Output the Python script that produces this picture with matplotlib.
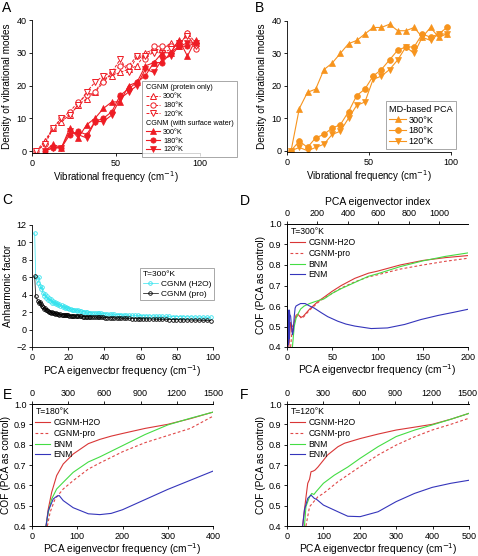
import matplotlib
matplotlib.use("Agg")
import matplotlib.pyplot as plt
from matplotlib.lines import Line2D

plt.rcParams['font.family'] = ['Liberation Sans', 'DejaVu Sans']
plt.rcParams['axes.linewidth'] = 0.6
plt.rcParams['xtick.major.width'] = 0.6
plt.rcParams['ytick.major.width'] = 0.6
plt.rcParams['xtick.major.size'] = 2.5
plt.rcParams['ytick.major.size'] = 2.5
plt.rcParams['xtick.major.pad'] = 1.5
plt.rcParams['ytick.major.pad'] = 1.5
plt.rcParams['xtick.labelsize'] = 6.5
plt.rcParams['ytick.labelsize'] = 6.5

# ---- panel A: CGNM density of modes ----
a_freq_pro = [2.5, 7.5, 12.5, 17.5, 22.5, 27.5, 32.5, 37.5, 42.5, 47.5,
              52.5, 57.5, 62.5, 67.5, 72.5, 77.5, 82.5, 87.5, 92.5, 97.5]
a_pro_300 = [0, 3, 7, 9, 11, 14, 16, 18, 22, 23, 24, 25, 26, 30, 31, 31, 33, 32, 36, 33]
a_pro_180 = [0, 2, 7, 10, 12, 15, 17, 18, 21, 24, 26, 26, 29, 28, 32, 32, 32, 32, 36, 31]
a_pro_120 = [0, 2, 7, 10, 11, 14, 18, 21, 23, 24, 28, 24, 29, 29, 30, 30, 31, 33, 35, 32]
a_freq_wat = [7.5, 12.5, 17.5, 22.5, 27.5, 32.5, 37.5, 42.5, 47.5,
              52.5, 57.5, 62.5, 67.5, 72.5, 77.5, 82.5, 87.5, 92.5, 97.5]
a_wat_300 = [0, 2, 1, 7, 4, 8, 10, 13, 15, 15, 20, 21, 26, 27, 30, 30, 34, 29, 34]
a_wat_180 = [0, 1, 1, 5, 6, 5, 9, 10, 12, 17, 19, 21, 23, 27, 27, 30, 32, 32, 33]
a_wat_120 = [0, 1, 1, 6, 5, 4, 9, 9, 11, 16, 18, 20, 25, 24, 28, 29, 32, 33, 33]

# ---- panel B: MD-based PCA density of modes ----
b_freq = [2.5, 7.5, 12.5, 17.5, 22.5, 27.5, 32.5, 37.5, 42.5, 47.5,
          52.5, 57.5, 62.5, 67.5, 72.5, 77.5, 82.5, 87.5, 92.5, 97.5]
b_300 = [0, 13, 18, 19, 25, 27, 30, 33, 34, 36, 38, 38, 39, 37, 37, 38, 35, 38, 35, 36]
b_180 = [0, 3, 1, 4, 5, 7, 8, 12, 17, 19, 23, 25, 28, 31, 32, 32, 36, 35, 36, 38]
b_120 = [0, 1, 0, 1, 2, 5, 6, 10, 14, 15, 22, 23, 25, 28, 32, 30, 35, 34, 36, 36]

# ---- panel C: anharmonic factor ----
c_freq = [1.5, 2.0, 3.2, 4.1, 4.6, 5.0, 5.5, 6.1, 6.6, 7.2, 7.7, 8.3, 8.8, 9.4,
          10.0, 10.6, 11.1, 11.7, 12.3, 12.8, 13.4, 14.0, 14.6, 15.1, 15.7,
          16.3, 16.9, 17.5, 18.1, 18.7, 19.3, 19.9, 20.6, 21.3, 22.0, 22.7,
          23.4, 24.1, 24.9, 25.6, 26.4, 27.2, 28.0, 28.8, 29.6, 30.5, 31.4,
          32.3, 33.2, 34.2, 35.2, 36.2, 37.2, 38.3, 39.4, 40.5, 41.7, 42.9,
          44.1, 45.4, 46.7, 48.0, 49.4, 50.8, 52.2, 53.7, 55.2, 56.7, 58.3,
          59.9, 61.5, 63.2, 64.9, 66.6, 68.4, 70.2, 72.0, 73.9, 75.8, 77.7,
          79.7, 81.7, 83.7, 85.8, 87.9, 90.0, 92.2, 94.4, 96.6, 98.8]
c_h2o = [11.1, 6.0, 5.3, 6.0, 5.0, 4.6, 4.9, 4.2, 3.9, 4.1, 3.6, 3.8, 3.4, 3.6,
         3.3, 3.5, 3.1, 3.3, 3.0, 3.2, 2.9, 3.0, 2.8, 2.9, 2.7,
         2.8, 2.6, 2.7, 2.5, 2.6, 2.45, 2.5, 2.35, 2.4, 2.3, 2.3,
         2.2, 2.25, 2.15, 2.2, 2.1, 2.1, 2.05, 2.05, 2.0, 2.0, 1.95,
         1.95, 1.9, 1.92, 1.88, 1.9, 1.85, 1.85, 1.82, 1.8, 1.78, 1.78,
         1.75, 1.74, 1.72, 1.72, 1.7, 1.68, 1.67, 1.65, 1.64, 1.63, 1.62,
         1.6, 1.59, 1.58, 1.57, 1.56, 1.55, 1.54, 1.53, 1.52, 1.51, 1.5,
         1.49, 1.48, 1.47, 1.46, 1.45, 1.44, 1.43, 1.42, 1.41, 1.4]
c_pro = [6.1, 3.8, 3.3, 3.1, 3.2, 2.9, 2.7, 2.6, 2.4, 2.5, 2.2, 2.3, 2.1, 2.0,
         2.05, 1.9, 2.0, 1.85, 1.9, 1.8, 1.85, 1.75, 1.8, 1.7, 1.75,
         1.7, 1.68, 1.7, 1.65, 1.66, 1.62, 1.64, 1.6, 1.6, 1.58, 1.58,
         1.56, 1.57, 1.54, 1.55, 1.52, 1.53, 1.5, 1.5, 1.48, 1.48, 1.46,
         1.46, 1.44, 1.45, 1.42, 1.43, 1.41, 1.4, 1.39, 1.38, 1.37, 1.36,
         1.35, 1.34, 1.33, 1.32, 1.31, 1.3, 1.29, 1.28, 1.27, 1.26, 1.25,
         1.24, 1.23, 1.22, 1.21, 1.2, 1.19, 1.18, 1.17, 1.16, 1.15, 1.14,
         1.13, 1.12, 1.11, 1.1, 1.09, 1.08, 1.07, 1.06, 1.05, 1.04]

# ---- panel D: COF at 300K ----
d_h2o_x = [2, 3, 4, 5, 6, 8, 10, 12, 14, 16, 18, 20, 25, 30, 35, 40, 50, 60,
           75, 90, 100, 125, 150, 175, 200]
d_h2o_y = [0.40, 0.46, 0.52, 0.50, 0.47, 0.52, 0.555, 0.56, 0.55, 0.545, 0.55,
           0.56, 0.585, 0.605, 0.625, 0.64, 0.672, 0.70, 0.735, 0.76, 0.77,
           0.80, 0.822, 0.836, 0.846]
d_pro_x = [4, 5, 6, 8, 10, 12, 14, 16, 18, 20, 25, 30, 35, 40, 50, 60, 75, 90,
           100, 125, 150, 175, 200]
d_pro_y = [0.40, 0.45, 0.50, 0.52, 0.545, 0.555, 0.55, 0.54, 0.545, 0.555, 0.58,
           0.60, 0.62, 0.635, 0.662, 0.688, 0.718, 0.742, 0.752, 0.78, 0.80,
           0.818, 0.833]
d_bnm_x = [6, 7, 8, 10, 12, 15, 19, 25, 30, 35, 41, 50, 60, 75, 90, 100, 125,
           150, 175, 200]
d_bnm_y = [0.40, 0.45, 0.50, 0.54, 0.56, 0.585, 0.60, 0.612, 0.62, 0.627, 0.635,
           0.662, 0.685, 0.715, 0.745, 0.757, 0.792, 0.82, 0.842, 0.859]
d_enm_x = [0.3, 0.6, 0.9, 1.2, 1.5, 1.8, 2.1, 2.4, 2.7, 3.0, 4, 5, 6, 7, 8, 9,
           10, 12, 15, 20, 25, 30, 38, 45, 56, 65, 75, 93, 111, 130, 148, 167,
           185, 200]
d_enm_y = [0.58, 0.40, 0.57, 0.41, 0.58, 0.42, 0.57, 0.44, 0.58, 0.56, 0.55,
           0.50, 0.46, 0.48, 0.55, 0.59, 0.60, 0.605, 0.612, 0.612, 0.60, 0.59,
           0.567, 0.548, 0.526, 0.512, 0.502, 0.49, 0.493, 0.51, 0.534, 0.554,
           0.57, 0.584]

# ---- panel E: COF at 180K ----
e_h2o_x = [31, 36, 43.5, 54.5, 69, 91, 124.5, 150, 175, 200, 250, 300, 350, 400]
e_h2o_y = [0.40, 0.484, 0.566, 0.648, 0.705, 0.754, 0.805, 0.826, 0.842, 0.855,
           0.88, 0.90, 0.928, 0.96]
e_pro_x = [34, 40, 51, 69, 91, 124.5, 150, 200, 250, 300, 350, 400]
e_pro_y = [0.40, 0.467, 0.533, 0.582, 0.623, 0.68, 0.71, 0.765, 0.81, 0.845,
           0.88, 0.94]
e_bnm_x = [31, 36, 43.5, 54.5, 69, 91, 124.5, 150, 200, 250, 300, 350, 400]
e_bnm_y = [0.40, 0.467, 0.533, 0.582, 0.615, 0.664, 0.715, 0.74, 0.795, 0.85,
           0.897, 0.93, 0.96]
e_enm_x = [31, 36, 47, 54.5, 60, 69, 91, 124.5, 150, 175, 200, 250, 300, 350, 400]
e_enm_y = [0.40, 0.475, 0.533, 0.546, 0.55, 0.525, 0.49, 0.46, 0.456, 0.462,
           0.48, 0.53, 0.58, 0.625, 0.67]

# ---- panel F: COF at 120K ----
f_h2o_x = [43, 48, 52, 57, 62, 66, 72, 77, 85, 94, 112, 140, 158, 201, 250,
           300, 350, 399, 450, 500]
f_h2o_y = [0.40, 0.48, 0.54, 0.61, 0.63, 0.667, 0.67, 0.675, 0.69, 0.71, 0.75,
           0.79, 0.807, 0.83, 0.852, 0.872, 0.886, 0.90, 0.925, 0.954]
f_pro_x = [52, 62, 85, 100, 140, 201, 250, 300, 351, 399, 450, 500]
f_pro_y = [0.40, 0.495, 0.544, 0.56, 0.618, 0.692, 0.749, 0.798, 0.839, 0.872,
           0.90, 0.93]
f_bnm_x = [48, 52, 62, 68, 74, 80, 100, 130, 167, 201, 250, 300, 351, 399, 450,
           500]
f_bnm_y = [0.40, 0.495, 0.544, 0.56, 0.555, 0.569, 0.61, 0.65, 0.69, 0.733, 0.79,
           0.84, 0.872, 0.897, 0.925, 0.954]
f_enm_x = [43, 48, 57, 66, 75, 82, 100, 140, 167, 201, 250, 300, 350, 399, 450,
           500]
f_enm_y = [0.40, 0.48, 0.536, 0.552, 0.536, 0.53, 0.503, 0.47, 0.448, 0.446,
           0.47, 0.52, 0.56, 0.59, 0.61, 0.625]

RED = '#ee1c24'
ORANGE = '#f7941d'
CYAN = '#33e3ee'
C_H2O = '#d93636'
C_PRO = '#e04848'
C_BNM = '#44dd44'
C_ENM = '#3535bb'

W, H = 478, 556
fig = plt.figure(figsize=(W / 100, H / 100), dpi=100)


def add_ax(left, top, right, bottom):
    # axes placed by pixel edges of the reference
    return fig.add_axes([left / W, 1 - bottom / H, (right - left) / W, (bottom - top) / H])


def simple_spines(ax):
    ax.spines['top'].set_visible(False)
    ax.spines['right'].set_visible(False)


def header_rows(leg, rows):
    # let group header rows start at the handle column
    items = leg._legend_handle_box.get_children()[0].get_children()
    for i in rows:
        items[i].get_children()[0].width = 0
        items[i].sep = 0


# ---- A ----
ax = add_ax(32, 20, 200, 153)
simple_spines(ax)
kw_open = dict(color=RED, lw=0.7, ls=(0, (3, 1.5)), ms=3.8, mfc='white', mew=0.7)
kw_fill = dict(color=RED, lw=0.8, ms=3.8, mew=0.5)
p1, = ax.plot(a_freq_pro, a_pro_300, marker='^', label='300°K', **kw_open)
p2, = ax.plot(a_freq_pro, a_pro_180, marker='o', label='180°K', **kw_open)
p3, = ax.plot(a_freq_pro, a_pro_120, marker='v', label='120°K', **kw_open)
w1, = ax.plot(a_freq_wat, a_wat_300, marker='^', label='300°K', **kw_fill)
w2, = ax.plot(a_freq_wat, a_wat_180, marker='o', label='180°K', **kw_fill)
w3, = ax.plot(a_freq_wat, a_wat_120, marker='v', label='120°K', **kw_fill)
ax.set_xlim(0, 100)
ax.set_ylim(-0.6, 40)
ax.set_xticks([0, 50, 100])
ax.set_yticks([0, 10, 20, 30, 40])
ax.set_xlabel('Vibrational frequency (cm$^{-1}$)', fontsize=7, labelpad=1.5)
ax.set_ylabel('Density of vibrational modes', fontsize=7.2, labelpad=3)
blank = Line2D([], [], ls='none')
leg = ax.legend([blank, p1, p2, p3, blank, w1, w2, w3],
                ['CGNM (protein only)', '300°K', '180°K', '120°K',
                 'CGNM (with surface water)', '300°K', '180°K', '120°K'],
                loc='lower left', bbox_to_anchor=(0.655, -0.03), fontsize=5.2,
                frameon=True, fancybox=False, edgecolor='#808080',
                handlelength=2.0, handletextpad=0.4, labelspacing=0.25,
                borderpad=0.5, borderaxespad=0)
leg.get_frame().set_linewidth(0.6)
leg.set_clip_on(False)
header_rows(leg, [0, 4])

# ---- B ----
ax = add_ax(287, 21, 451, 152)
simple_spines(ax)
kw_b = dict(color=ORANGE, lw=0.8, ms=4.2, mew=0.5)
ax.plot(b_freq, b_300, marker='^', label='300°K', **kw_b)
ax.plot(b_freq, b_180, marker='o', label='180°K', **kw_b)
ax.plot(b_freq, b_120, marker='v', label='120°K', **kw_b)
ax.set_xlim(0, 100)
ax.set_ylim(-0.4, 40)
ax.set_xticks([0, 50, 100])
ax.set_yticks([0, 10, 20, 30, 40])
ax.set_xlabel('Vibrational frequency (cm$^{-1}$)', fontsize=7, labelpad=1.5)
ax.set_ylabel('Density of vibrational modes', fontsize=7.2, labelpad=3)
leg = ax.legend(title='MD-based PCA', loc='lower left', bbox_to_anchor=(0.604, 0.02),
                fontsize=6.6, title_fontsize=6.6, alignment='left', frameon=True,
                fancybox=False, edgecolor='#808080', handlelength=1.8,
                handletextpad=0.3, labelspacing=0.2, borderpad=0.35, borderaxespad=0)
leg.get_frame().set_linewidth(0.6)

# ---- C ----
ax = add_ax(32, 225, 213, 347)
simple_spines(ax)
kw_c = dict(lw=0.5, marker='o', ms=2.6, mfc='none', mew=0.6)
ax.plot(c_freq, c_h2o, color=CYAN, label='CGNM (H2O)', **kw_c)
ax.plot(c_freq, c_pro, color='black', label='CGNM (pro)', **kw_c)
ax.set_xlim(0, 100)
ax.set_ylim(-2, 12)
ax.set_xticks(range(0, 101, 20))
ax.set_yticks(range(-2, 13, 2))
ax.set_xlabel('PCA eigenvector frequency (cm$^{-1}$)', fontsize=7.3, labelpad=1)
ax.set_ylabel('Anharmonic factor', fontsize=7.3, labelpad=2)
leg = ax.legend(title='T=300°K', loc='lower left', bbox_to_anchor=(0.597, 0.385),
                fontsize=6, title_fontsize=6, alignment='left', frameon=True,
                fancybox=False, edgecolor='#808080', handlelength=1.8,
                handletextpad=0.4, labelspacing=0.25, borderpad=0.3, borderaxespad=0)
leg.get_frame().set_linewidth(0.6)


def cof_panel(box, xmax, xticks, top_max, temp, h2o, pro, bnm, enm, top_label=None):
    ax = add_ax(*box)
    ax.spines['right'].set_visible(False)
    ax.plot(h2o[0], h2o[1], color=C_H2O, lw=0.8, label='CGNM-H2O')
    ax.plot(pro[0], pro[1], color=C_PRO, lw=0.8, ls=(0, (2.5, 2)), label='CGNM-pro')
    ax.plot(bnm[0], bnm[1], color=C_BNM, lw=0.8, label='BNM')
    ax.plot(enm[0], enm[1], color=C_ENM, lw=0.8, label='ENM')
    ax.set_xlim(0, xmax)
    ax.set_ylim(0.4, 1.0)
    ax.set_xticks(xticks)
    ax.set_yticks([0.4, 0.5, 0.6, 0.7, 0.8, 0.9, 1.0])
    ax.set_yticklabels(['0.4', '0.5', '0.6', '0.7', '0.8', '0.9', '1.0'])
    ax.set_xlabel('PCA eigenvector frequency (cm$^{-1}$)', fontsize=7.3, labelpad=0.5)
    ax.set_ylabel('COF (PCA as control)', fontsize=7.3, labelpad=2)
    ax.legend(title=temp, loc='upper left', bbox_to_anchor=(0.0, 1.0),
              fontsize=6.2, title_fontsize=6.2, alignment='left', frameon=False,
              handlelength=1.7, handletextpad=0.4, labelspacing=0.2,
              borderpad=0.3, borderaxespad=0.1)
    top = ax.twiny()
    top.spines['right'].set_visible(False)
    top.set_xlim(0, top_max[0])
    top.set_xticks(top_max[1])
    if top_label:
        top.set_xlabel(top_label, fontsize=7.5, labelpad=3)
    return ax


cof_panel((287, 224, 468, 347), 200, [0, 50, 100, 150, 200],
          (1190, [0, 200, 400, 600, 800, 1000]), 'T=300°K',
          (d_h2o_x, d_h2o_y), (d_pro_x, d_pro_y), (d_bnm_x, d_bnm_y),
          (d_enm_x, d_enm_y), top_label='PCA eigenvector index')
cof_panel((32, 404, 213, 526), 400, [0, 100, 200, 300, 400],
          (1485, [0, 300, 600, 900, 1200, 1500]), 'T=180°K',
          (e_h2o_x, e_h2o_y), (e_pro_x, e_pro_y), (e_bnm_x, e_bnm_y),
          (e_enm_x, e_enm_y))
cof_panel((287, 404, 469, 526), 500, [0, 100, 200, 300, 400, 500],
          (1510, [0, 300, 600, 900, 1200, 1500]), 'T=120°K',
          (f_h2o_x, f_h2o_y), (f_pro_x, f_pro_y), (f_bnm_x, f_bnm_y),
          (f_enm_x, f_enm_y))

# panel letters
for letter, x, y in [('A', 7, 8), ('B', 259, 8), ('C', 7, 200),
                     ('D', 245, 201), ('E', 7, 395), ('F', 244, 395)]:
    fig.text(x / W, 1 - y / H, letter, fontsize=10, ha='center', va='center')

fig.savefig('out.png', dpi=100)
